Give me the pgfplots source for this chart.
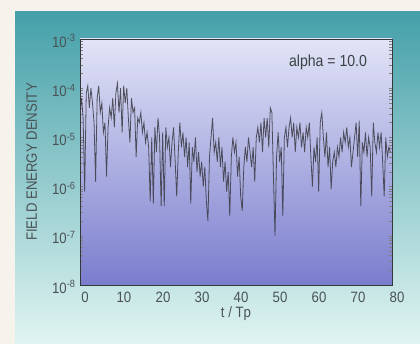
\documentclass[border=0pt]{standalone}
\usepackage{fontspec}
\setmainfont{Liberation Sans}[FakeStretch=0.88]
\usepackage{pgfplots}
\pgfplotsset{compat=1.18}
\definecolor{cream}{HTML}{F6F2EC}
\definecolor{tealtop}{HTML}{45A0A9}
\definecolor{tealmid}{HTML}{8ECDCD}
\definecolor{tealbot}{HTML}{E0F4F1}
\definecolor{lavtop}{HTML}{E2E4F7}
\definecolor{lavmid}{HTML}{B0B3E6}
\definecolor{lavbot}{HTML}{7A7DCD}
\definecolor{labgrey}{HTML}{4A5255}
\definecolor{linegrey}{HTML}{3A3A44}
\begin{document}
\begin{tikzpicture}
\fill[cream] (0pt,0pt) rectangle (420pt,344pt);
\shade[top color=tealtop, middle color=tealmid, bottom color=tealbot] (15pt,0pt) rectangle (420pt,332pt);
\begin{axis}[
  at={(80pt,59pt)}, anchor=south west,
  width=312pt, height=246pt, scale only axis,
  ymode=log, xmin=0, xmax=80, ymin=1e-8, ymax=1e-3,
  axis background/.style={top color=lavtop, middle color=lavmid, bottom color=lavbot},
  axis line style={draw=labgrey!70!black, line width=0.8pt},
  major tick length=0pt, minor tick num=0,
  ytickten={-8,-7,-6,-5,-4,-3},
  yticklabels={10\textsuperscript{-8},10\textsuperscript{-7},10\textsuperscript{-6},10\textsuperscript{-5},10\textsuperscript{-4},10\textsuperscript{-3}},
  xtick={0,10,...,80},
  xticklabels={0,10,20,30,40,50,60,70,80},
  ticklabel style={font=\fontsize{15}{17}\selectfont, text=labgrey},
  xticklabel style={xshift=5pt, yshift=-3pt},
  yticklabel style={xshift=-1pt, yshift=-2pt},
  xlabel={t / Tp},
  ylabel={FIELD ENERGY DENSITY},
  xlabel style={font=\fontsize{15}{17}\selectfont, text=labgrey, at={(axis description cs:0.5,-0.115)}, anchor=center},
  ylabel style={font=\fontsize{15}{17}\selectfont, text=labgrey, at={(axis description cs:-0.155,0.5)}, anchor=center},
  clip=true,
]
\addplot[color=linegrey, line width=0.8pt, opacity=0.85] coordinates {
(0.0,3.2e-5) (0.4,6.3e-5) (0.8,2.5e-5) (1.2,7.9e-7) (1.6,7.9e-5) (2.0,1.12e-4) (2.4,4e-5) (2.8,1e-4)
(3.2,5e-5) (3.6,2e-5) (4.0,1.26e-6) (4.4,6.3e-5) (4.8,1.12e-4) (5.2,3.2e-5) (5.6,5e-5) (6.0,1.26e-5)
(6.4,2e-5) (6.8,1.6e-6) (7.2,1.6e-5) (7.6,4e-5) (8.0,2.5e-5) (8.4,6.3e-5) (8.8,1.6e-5) (9.2,7.9e-5)
(9.6,1.26e-4) (10.0,3.2e-5) (10.4,1e-4) (10.8,1.26e-5) (11.2,1.12e-4) (11.6,5e-5) (12.0,1e-4) (12.4,2.5e-5)
(12.8,7.9e-6) (13.2,6.3e-5) (13.6,3.2e-5) (14.0,4e-5) (14.4,4e-6) (14.8,2.5e-5) (15.2,2e-5) (15.6,3.2e-5)
(16.0,1.26e-5) (16.4,2e-5) (16.8,7.9e-6) (17.2,1.26e-5) (17.6,6.3e-6) (18.0,5e-7) (18.4,1e-5) (18.8,4.5e-7)
(19.2,1.6e-5) (19.6,5e-6) (20.0,2.5e-5) (20.4,1e-5) (20.8,4e-7) (21.2,1.26e-5) (21.6,4e-7) (22.0,1.6e-5)
(22.4,6.3e-6) (22.8,1e-5) (23.2,2.5e-6) (23.6,7.9e-6) (24.0,1.6e-5) (24.4,3.2e-6) (24.8,6.3e-7) (25.2,5e-6)
(25.6,2e-5) (26.0,6.3e-6) (26.4,1.26e-5) (26.8,4e-6) (27.2,1e-5) (27.6,2.5e-6) (28.0,7.9e-6) (28.4,4.5e-7)
(28.8,6.3e-6) (29.2,3.2e-6) (29.6,1e-5) (30.0,2e-6) (30.4,5e-6) (30.8,1.6e-6) (31.2,3.2e-6) (31.6,1e-6)
(32.0,2.5e-6) (32.4,5e-7) (32.8,2e-7) (33.2,4e-6) (33.6,1e-5) (34.0,2.5e-5) (34.4,5e-6) (34.8,7.9e-6)
(35.2,3.2e-6) (35.6,1e-5) (36.0,2.5e-6) (36.4,6.3e-6) (36.8,1.26e-6) (37.2,3.2e-6) (37.6,7.9e-7) (38.0,2e-6)
(38.4,2.5e-7) (38.8,4e-6) (39.2,1e-5) (39.6,5e-6) (40.0,7.9e-6) (40.4,1.6e-6) (40.8,4e-6) (41.2,6.3e-7)
(41.6,3.2e-7) (42.0,2.5e-6) (42.4,6.3e-6) (42.8,3.2e-6) (43.2,1e-5) (43.6,5e-6) (44.0,2.5e-6) (44.4,6.3e-6)
(44.8,1.26e-6) (45.2,1e-5) (45.6,1.6e-5) (46.0,7.9e-6) (46.4,2e-5) (46.8,5e-6) (47.2,2.5e-5) (47.6,1e-5)
(48.0,2.5e-5) (48.4,6.3e-6) (48.8,4e-5) (49.2,3.2e-5) (49.6,1.6e-6) (50.0,1e-7) (50.4,4e-6) (50.8,1.26e-5)
(51.2,3.2e-6) (51.6,6.3e-6) (52.0,2.5e-7) (52.4,1e-5) (52.8,1.6e-5) (53.2,6.3e-6) (53.6,1.6e-5) (54.0,2.5e-5)
(54.4,1e-5) (54.8,2e-5) (55.2,5e-6) (55.6,1.6e-5) (56.0,1e-5) (56.4,2e-5) (56.8,6.3e-6) (57.2,1.26e-5)
(57.6,5e-6) (58.0,1.6e-5) (58.4,1e-5) (58.8,2e-5) (59.2,4e-6) (59.6,1e-6) (60.0,6.3e-6) (60.4,3.2e-6)
(60.8,1e-5) (61.2,7.9e-7) (61.6,2e-5) (62.0,3.2e-5) (62.4,1e-5) (62.8,4e-6) (63.2,1.26e-5) (63.6,2.5e-6)
(64.0,6.3e-6) (64.4,8.9e-7) (64.8,3.2e-6) (65.2,5e-6) (65.6,2.5e-6) (66.0,6.3e-6) (66.4,4e-6) (66.8,1e-5)
(67.2,5e-6) (67.6,1.26e-5) (68.0,7.9e-6) (68.4,1.6e-5) (68.8,6.3e-6) (69.2,1e-5) (69.6,2.5e-6) (70.0,5e-6)
(70.4,1e-5) (70.8,2e-5) (71.2,4e-6) (71.6,2.2e-5) (72.0,4e-7) (72.4,7.9e-6) (72.8,5e-6) (73.2,1.26e-5)
(73.6,4e-6) (74.0,1e-5) (74.4,6.3e-6) (74.8,6.3e-7) (75.2,2e-5) (75.6,7.9e-6) (76.0,5e-6) (76.4,1.26e-5)
(76.8,6.3e-6) (77.2,1.26e-5) (77.6,3.2e-6) (78.0,6.3e-7) (78.4,1e-5) (78.8,4e-6) (79.2,6.3e-6) (79.6,5e-6)
};
\node[font=\fontsize{16}{18}\selectfont, text=labgrey!80!black] at (axis description cs:0.795,0.905) {alpha = 10.0};
\end{axis}
\end{tikzpicture}
\end{document}
